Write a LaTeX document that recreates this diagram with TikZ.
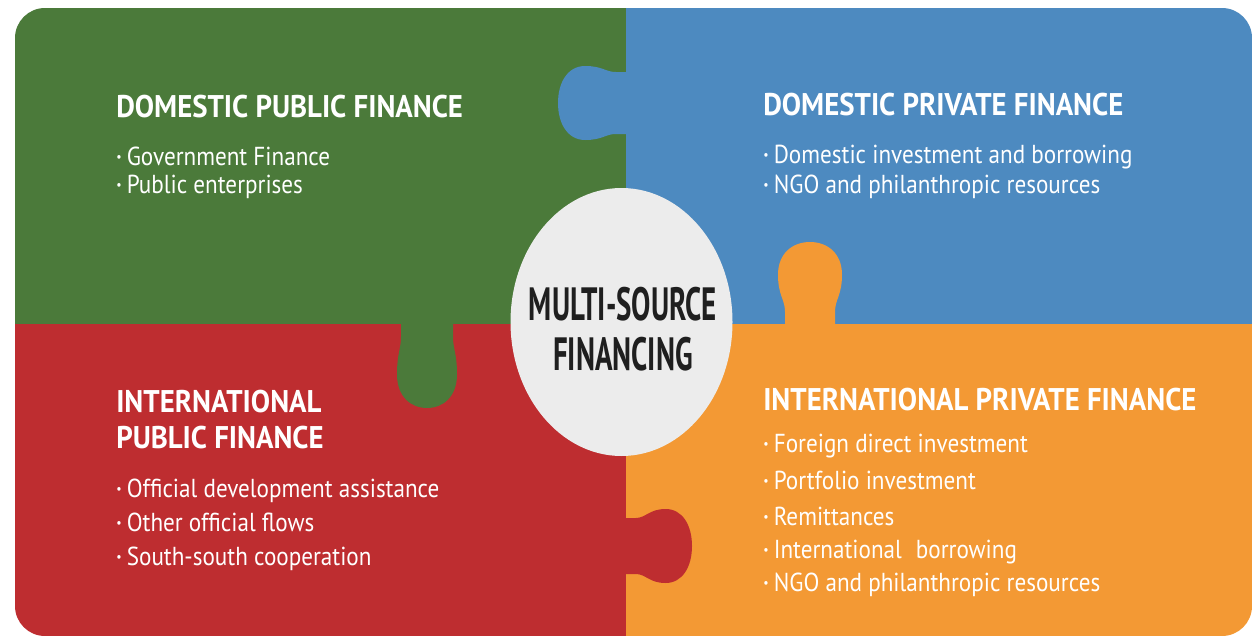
\documentclass[tikz,border=0pt]{standalone}
\usepackage{fontspec}
\usetikzlibrary{shapes.geometric}
\setmainfont{PT Sans}
\newfontfamily\headfont[FakeStretch=0.92]{PT Sans}
\newfontfamily\itemfont[FakeStretch=0.89]{PT Sans}
\newfontfamily\hubfont[FakeStretch=0.62]{PT Sans}

\definecolor{pzgreen}{RGB}{75,122,58}
\definecolor{pzblue}{RGB}{77,138,192}
\definecolor{pzred}{RGB}{190,45,48}
\definecolor{pzorange}{RGB}{243,153,52}
\definecolor{hubgray}{RGB}{236,236,236}

% small bullet in front of each list entry
\newcommand\itemdot{\raisebox{0.3ex}{\fontsize{10}{10}\selectfont •}\hspace{0.2em}}

% vertical puzzle tab: colour, centre x, base y, direction (+1 down / -1 up),
% length, bulb half-width, neck half-width
\newcommand\vtab[7]{%
  \fill[#1] ({#2-#7},{#3-(#4)*3}) -- ({#2-#7},{#3+(#4)*0.15*#5})
    .. controls ({#2-#7},{#3+(#4)*0.3*#5}) and ({#2-#6},{#3+(#4)*0.35*#5}) .. ({#2-#6},{#3+(#4)*0.6*#5})
    .. controls ({#2-#6},{#3+(#4)*0.86*#5}) and ({#2-0.55*#6},{#3+(#4)*#5}) .. ({#2},{#3+(#4)*#5})
    .. controls ({#2+0.55*#6},{#3+(#4)*#5}) and ({#2+#6},{#3+(#4)*0.86*#5}) .. ({#2+#6},{#3+(#4)*0.6*#5})
    .. controls ({#2+#6},{#3+(#4)*0.35*#5}) and ({#2+#7},{#3+(#4)*0.3*#5}) .. ({#2+#7},{#3+(#4)*0.15*#5})
    -- ({#2+#7},{#3-(#4)*3}) -- cycle;}

% horizontal puzzle tab: colour, centre y, base x, direction (+1 right / -1 left),
% length, bulb half-height, neck half-height
\newcommand\htab[7]{%
  \fill[#1] ({#3-(#4)*3},{#2-#7}) -- ({#3+(#4)*0.15*#5},{#2-#7})
    .. controls ({#3+(#4)*0.3*#5},{#2-#7}) and ({#3+(#4)*0.35*#5},{#2-#6}) .. ({#3+(#4)*0.6*#5},{#2-#6})
    .. controls ({#3+(#4)*0.86*#5},{#2-#6}) and ({#3+(#4)*#5},{#2-0.55*#6}) .. ({#3+(#4)*#5},{#2})
    .. controls ({#3+(#4)*#5},{#2+0.55*#6}) and ({#3+(#4)*0.86*#5},{#2+#6}) .. ({#3+(#4)*0.6*#5},{#2+#6})
    .. controls ({#3+(#4)*0.35*#5},{#2+#6}) and ({#3+(#4)*0.3*#5},{#2+#7}) .. ({#3+(#4)*0.15*#5},{#2+#7})
    -- ({#3-(#4)*3},{#2+#7}) -- cycle;}

\begin{document}
\begin{tikzpicture}[x=0.75pt,y=-0.75pt,
  paneltitle/.style={anchor=base west, inner sep=0pt, text=white,
    font=\headfont\bfseries\fontsize{23.5}{26}\selectfont},
  entry/.style={anchor=base west, inner sep=0pt, text=white,
    font=\itemfont\fontsize{19.5}{21}\selectfont},
  hubtitle/.style={align=center, inner sep=0pt, text=black!88,
    font=\hubfont\bfseries\fontsize{35}{37.5}\selectfont}]

\useasboundingbox (0,0) rectangle (1257,639);
\fill[white] (0,0) rectangle (1257,639);

% four quadrants inside one rounded frame
\begin{scope}
  \clip[rounded corners=22.5pt] (15,8) rectangle (1252,636);
  \fill[pzgreen]  (15,8)    rectangle (626,324);
  \fill[pzblue]   (626,8)   rectangle (1252,324);
  \fill[pzred]    (15,324)  rectangle (626,636);
  \fill[pzorange] (626,324) rectangle (1252,636);
  % interlocking tabs
  \htab{pzblue}{103}{626}{-1}{68}{37}{31}
  \vtab{pzgreen}{427}{324}{1}{84}{30}{26}
  \vtab{pzorange}{810}{324}{-1}{82}{32}{25}
  \htab{pzred}{546}{626}{1}{66}{37}{28}
\end{scope}

% central hub
\node[ellipse, fill=hubgray, minimum width=166.5pt, minimum height=201pt, inner sep=0pt]
  (hub) at (621.5,322) {};
\node[hubtitle] (hubtext) at (623,329) {MULTI-SOURCE\\FINANCING};

% domestic public finance
\node[paneltitle] (dpubt) at (116,117) {DOMESTIC PUBLIC FINANCE};
\node[entry] (dpub1) at (116,165) {\itemdot Government Finance};
\node[entry] (dpub2) at (116,193) {\itemdot Public enterprises};

% domestic private finance
\node[paneltitle] (dprit) at (763,115) {DOMESTIC PRIVATE FINANCE};
\node[entry] (dpri1) at (763,163) {\itemdot Domestic investment and borrowing};
\node[entry] (dpri2) at (763,193) {\itemdot NGO and philanthropic resources};

% international public finance
\node[paneltitle] (ipubt1) at (116,412) {INTERNATIONAL};
\node[paneltitle] (ipubt2) at (116,448) {PUBLIC FINANCE};
\node[entry] (ipub1) at (116,497) {\itemdot Official development assistance};
\node[entry] (ipub2) at (116,531) {\itemdot Other official flows};
\node[entry] (ipub3) at (116,565) {\itemdot South-south cooperation};

% international private finance
\node[paneltitle] (iprit) at (763,410) {INTERNATIONAL PRIVATE FINANCE};
\node[entry] (ipri1) at (763,452) {\itemdot Foreign direct investment};
\node[entry] (ipri2) at (763,489) {\itemdot Portfolio investment};
\node[entry] (ipri3) at (763,525) {\itemdot Remittances};
\node[entry] (ipri4) at (763,558) {\itemdot International\hspace{0.3em} borrowing};
\node[entry] (ipri5) at (763,591) {\itemdot NGO and philanthropic resources};

\end{tikzpicture}
\end{document}
